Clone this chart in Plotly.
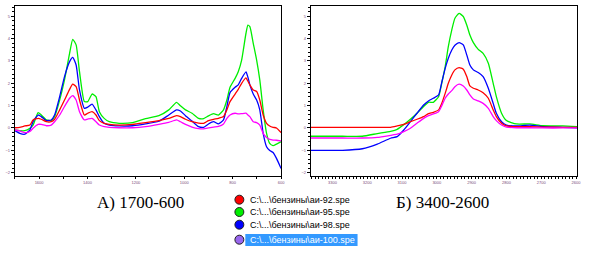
import plotly.graph_objects as go

W, H = 589, 253

# ---------------- data: panel A (1700-600 cm-1) ----------------
wn_a = [1700, 1680, 1659, 1638, 1625, 1604, 1591, 1570, 1550, 1536, 1515, 1495,
        1474, 1461, 1447, 1433, 1413, 1399, 1381, 1365, 1351, 1331, 1310, 1269,
        1214, 1160, 1105, 1064, 1032, 1016, 995, 968, 941, 920, 900, 879, 859,
        838, 824, 811, 790, 777, 763, 745, 737, 729, 715, 701, 688, 674, 660,
        647, 633, 619, 600]
a_92 = [0.01, 0.03, 0.09, 0.13, 0.36, 0.43, 0.39, 0.28, 0.28, 0.39, 0.81, 1.25,
        1.73, 1.96, 1.85, 1.25, 0.58, 0.66, 0.73, 0.58, 0.33, 0.21, 0.16, 0.13,
        0.16, 0.24, 0.33, 0.43, 0.55, 0.51, 0.39, 0.28, 0.22, 0.21, 0.33, 0.39,
        0.43, 0.51, 0.81, 1.18, 1.52, 1.73, 2.00, 2.24, 2.09, 1.93, 1.70, 1.63,
        1.25, 0.58, 0.21, 0.09, 0.03, 0.00, -0.21]
a_95 = [-0.09, -0.12, -0.12, -0.01, 0.13, 0.69, 0.58, 0.36, 0.33, 0.51, 1.25, 2.15,
        3.34, 3.97, 3.72, 2.52, 1.18, 1.18, 1.52, 1.40, 0.73, 0.43, 0.28, 0.21,
        0.24, 0.42, 0.55, 0.81, 1.15, 0.99, 0.81, 0.66, 0.43, 0.42, 0.54, 0.64,
        0.58, 0.81, 1.25, 1.82, 2.22, 2.52, 3.04, 4.24, 4.60, 4.54, 3.79, 3.04,
        2.15, 0.81, -0.24, -0.69, -0.79, -0.72, -0.61]
a_98 = [-0.12, -0.24, -0.28, -0.09, 0.28, 0.58, 0.51, 0.33, 0.36, 0.58, 1.40, 2.30,
        2.97, 3.16, 2.82, 1.70, 0.88, 0.93, 1.07, 0.81, 0.51, 0.21, 0.13, 0.09,
        0.10, 0.18, 0.30, 0.58, 0.81, 0.76, 0.55, 0.31, 0.06, 0.03, 0.18, 0.28,
        0.18, 0.36, 0.96, 1.58, 1.82, 1.93, 2.22, 2.51, 2.27, 1.93, 1.52, 1.25,
        0.81, -0.24, -0.84, -1.01, -1.10, -1.36, -1.81]
a_100 = [-0.09, -0.13, -0.21, -0.16, -0.01, 0.16, 0.16, 0.10, 0.13, 0.28, 0.58, 0.96,
         1.33, 1.45, 1.25, 0.73, 0.36, 0.40, 0.43, 0.28, 0.13, 0.06, 0.03, 0.01,
         0.01, 0.06, 0.16, 0.25, 0.36, 0.28, 0.16, 0.04, -0.03, -0.04, 0.00, 0.04,
         0.07, 0.18, 0.43, 0.58, 0.66, 0.63, 0.64, 0.66, 0.58, 0.51, 0.28, 0.24,
         0.13, -0.24, -0.43, -0.51, -0.54, -0.55, -0.58]

# ---------------- data: panel B (3400-2600 cm-1) ----------------
wn_b = [3362, 3271, 3214, 3171, 3133, 3114, 3095, 3076, 3057, 3038, 3024, 3010,
        2995, 2986, 2976, 2967, 2957, 2948, 2936, 2924, 2914, 2905, 2895, 2881,
        2867, 2852, 2838, 2829, 2814, 2800, 2771, 2733, 2695, 2638, 2597]
b_92 = [0.03, 0.03, 0.03, 0.03, 0.03, 0.09, 0.16, 0.28, 0.39, 0.51, 0.64, 0.70,
        0.81, 1.10, 1.55, 2.00, 2.37, 2.60, 2.70, 2.63, 2.30, 1.88, 1.78, 1.70,
        1.58, 1.33, 0.81, 0.51, 0.21, 0.09, 0.06, 0.06, 0.04, 0.03, 0.03]
b_95 = [-0.37, -0.37, -0.37, -0.25, -0.15, -0.06, 0.15, 0.39, 0.66, 0.96, 1.15, 1.15,
        1.40, 2.00, 2.75, 3.64, 4.39, 4.91, 5.13, 4.99, 4.61, 4.16, 3.82, 3.52,
        3.34, 2.90, 2.00, 1.40, 0.66, 0.33, 0.18, 0.18, 0.10, 0.09, 0.06]
b_98 = [-1.00, -1.00, -0.93, -0.72, -0.46, -0.39, -0.09, 0.28, 0.66, 1.03, 1.21, 1.33,
        1.48, 2.03, 2.67, 3.12, 3.49, 3.70, 3.82, 3.72, 3.27, 2.82, 2.60, 2.48,
        2.30, 1.78, 1.10, 0.66, 0.28, 0.13, 0.09, 0.13, 0.06, 0.03, 0.01]
b_100 = [-0.45, -0.45, -0.45, -0.42, -0.33, -0.28, -0.16, -0.01, 0.21, 0.43, 0.55, 0.63,
         0.73, 0.99, 1.33, 1.52, 1.67, 1.85, 1.96, 1.88, 1.70, 1.48, 1.30, 1.21,
         1.10, 0.88, 0.51, 0.33, 0.13, 0.04, 0.01, 0.01, 0.00, 0.00, 0.00]

legend_names = ["C:\\...\\бензины\\аи-92.spe", "C:\\...\\бензины\\аи-95.spe",
                "C:\\...\\бензины\\аи-98.spe", "C:\\...\\бензины\\аи-100.spe"]
captions = ["А) 1700-600", "Б) 3400-2600"]

line_colors = ["#ff0000", "#00ee00", "#0000ff", "#ff00ff"]
marker_colors = ["#ff0000", "#00ee00", "#0000ff", "#9966ee"]

fig = go.Figure()
draw_order = [1, 2, 0, 3]
series_a = [a_92, a_95, a_98, a_100]
series_b = [b_92, b_95, b_98, b_100]
for i in draw_order:
    fig.add_trace(go.Scatter(x=wn_a, y=series_a[i], mode="lines",
                             line=dict(color=line_colors[i], width=1.3, shape="spline", smoothing=0.5),
                             xaxis="x", yaxis="y", showlegend=False, hoverinfo="skip"))
    fig.add_trace(go.Scatter(x=wn_b, y=series_b[i], mode="lines",
                             line=dict(color=line_colors[i], width=1.3, shape="spline", smoothing=0.5),
                             xaxis="x2", yaxis="y2", showlegend=False, hoverinfo="skip"))

ydom = [(H - 176) / H, (H - 6) / H]
yrange = [-2.15, 5.46]
tickfont = dict(size=4, color="#7a4a7a", family="Liberation Sans")

def xaxis(dom, rng, dtick, mdtick, anchor):
    return dict(domain=dom, range=rng, showgrid=False, zeroline=False,
                showline=True, mirror=True, linecolor="black", linewidth=1,
                ticks="outside", ticklen=2, tickcolor="black", dtick=dtick, tick0=0,
                tickfont=tickfont, anchor=anchor,
                minor=dict(ticks="outside", ticklen=2, dtick=mdtick, tickcolor="black"))

def yaxis(anchor):
    return dict(domain=ydom, range=yrange, showgrid=False, zeroline=False,
                showline=True, mirror=True, linecolor="black", linewidth=1,
                ticks="outside", ticklen=3, tickcolor="black", dtick=1, tick0=0,
                tickfont=tickfont, anchor=anchor,
                minor=dict(ticks="outside", ticklen=2, dtick=0.2, tickcolor="black"))

fig.update_layout(
    width=W, height=H, margin=dict(l=0, r=0, t=0, b=0),
    paper_bgcolor="white", plot_bgcolor="white",
    xaxis=xaxis([15 / W, 283 / W], [1700, 600], 200, 100, "y"),
    yaxis=yaxis("x"),
    xaxis2=xaxis([313 / W, 581 / W], [3362, 2597], 100, 10, "y2"),
    yaxis2=yaxis("x2"),
)

# captions
fig.add_annotation(text=captions[0], x=141.5 / W, y=1 - 202 / H, xref="paper", yref="paper",
                   showarrow=False, xanchor="center", yanchor="middle",
                   font=dict(family="Liberation Serif", size=17, color="black"))
fig.add_annotation(text=captions[1], x=446 / W, y=1 - 202 / H, xref="paper", yref="paper",
                   showarrow=False, xanchor="center", yanchor="middle",
                   font=dict(family="Liberation Serif", size=17, color="black"))

# legend box (selected last item highlighted)
row_y = [199.7, 212, 224.7, 239.7]
fig.add_shape(type="rect", xref="paper", yref="paper",
              x0=247 / W, x1=360 / W, y0=1 - 246 / H, y1=1 - 234 / H,
              fillcolor="#3399ff", line=dict(width=0), layer="below")
for i, name in enumerate(legend_names):
    cy = row_y[i]
    fig.add_shape(type="circle", xref="paper", yref="paper",
                  x0=(241 - 4.5) / W, x1=(241 + 4.5) / W,
                  y0=1 - (cy + 4.5) / H, y1=1 - (cy - 4.5) / H,
                  fillcolor=marker_colors[i], line=dict(color="#202020", width=1))
    fig.add_annotation(text=name, x=250 / W, y=1 - cy / H, xref="paper", yref="paper",
                       showarrow=False, xanchor="left", yanchor="middle",
                       font=dict(family="Liberation Sans", size=9,
                                 color="white" if i == 3 else "black"))

fig.write_html("out.html", config={"displayModeBar": False},
               post_script="document.body.style.margin='0px';document.body.style.overflow='hidden';")
